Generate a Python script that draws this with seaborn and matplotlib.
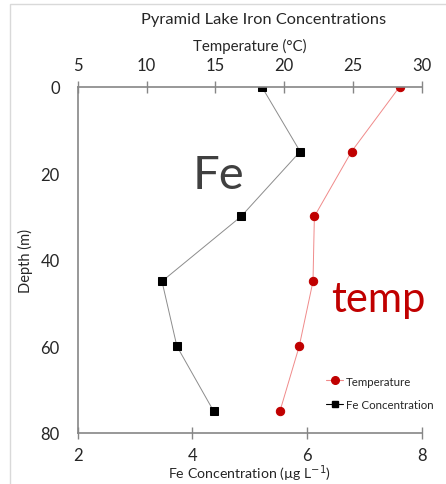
import matplotlib
matplotlib.use("Agg")
import matplotlib.pyplot as plt
import seaborn as sns
import pandas as pd
from matplotlib.lines import Line2D
from matplotlib.patches import Rectangle

depth = [0, 15, 30, 45, 60, 75]
fe_conc = [5.21, 5.88, 4.85, 3.47, 3.73, 4.37]
temperature = [28.4, 24.9, 22.2, 22.1, 21.1, 19.7]
fe_ticks = [2, 4, 6, 8]
temp_ticks = [5, 10, 15, 20, 25, 30]
depth_ticks = [0, 20, 40, 60, 80]

sns.set_style("white")
plt.rcParams["font.family"] = ["Lato", "DejaVu Sans"]

df = pd.DataFrame({"depth": depth, "fe": fe_conc, "temp": temperature})

fig = plt.figure(figsize=(4.46, 4.85), dpi=100)
fig.patches.append(Rectangle((10/446, -0.1), 1.0, 1 - 5/485 + 0.1, transform=fig.transFigure,
                             fill=False, edgecolor="#d9d9d9", linewidth=1.0))
ax = fig.add_axes([77.7/446, 1 - 433.7/485, (421.7-77.7)/446, (433.7-87.7)/485])
ax.set_facecolor("none")

sns.lineplot(data=df, x="fe", y="depth", sort=False, estimator=None, ax=ax,
             color="#8c8c8c", linewidth=0.7, marker="s", markersize=5.5,
             markerfacecolor="black", markeredgecolor="black")
ax2 = ax.twiny()
sns.lineplot(data=df, x="temp", y="depth", sort=False, estimator=None, ax=ax2,
             color="#f08a8a", linewidth=0.7, marker="o", markersize=6,
             markerfacecolor="#c00000", markeredgecolor="#c00000")

ax.set_xlim(2, 8)
ax.set_ylim(80, 0)
ax2.set_xlim(5, 30)
ax.set_xticks(fe_ticks)
ax.set_yticks(depth_ticks)
ax2.set_xticks(temp_ticks)

spine_c = "#868686"
for a in (ax, ax2):
    for s in a.spines.values():
        s.set_visible(False)
ax.spines["bottom"].set_visible(True)
ax.spines["left"].set_visible(True)
ax2.spines["top"].set_visible(True)
for a in (ax, ax2):
    for s in a.spines.values():
        s.set_color(spine_c)
        s.set_linewidth(1.2)

ax.tick_params(axis="both", direction="inout", length=8, width=1, color=spine_c,
               labelsize=12, labelcolor="#262626")
ax.tick_params(axis="x", pad=6)
ax.tick_params(axis="y", pad=9)
ax2.tick_params(axis="x", direction="inout", length=8, width=1, color=spine_c,
                labelsize=12, labelcolor="#262626", pad=6)

ax.set_xlabel("Fe Concentration (µg L$^{-1}$)", fontsize=10.2, color="#262626", labelpad=0)
ax.set_ylabel("Depth (m)", fontsize=10.5, color="#262626", labelpad=5)
ax2.set_xlabel("Temperature (°C)", fontsize=10.8, color="#262626", labelpad=5)
ax2.set_ylabel("")

fig.text(0.59, 1 - 20/485, "Pyramid Lake Iron Concentrations", ha="center", va="center",
         fontsize=11.8, color="#262626")

ax.text(4.45, 20.5, "Fe", fontsize=34, color="#404040", ha="center", va="center")
ax.text(7.24, 49, "temp", fontsize=30, color="#c00000", ha="center", va="center")

handles = [
    Line2D([], [], color="#f08a8a", linewidth=0.8, marker="o", markersize=5.5,
           markerfacecolor="#c00000", markeredgecolor="#c00000"),
    Line2D([], [], color="black", linewidth=0.8, marker="s", markersize=5,
           markerfacecolor="black", markeredgecolor="black"),
]
ax.legend(handles, ["Temperature", "Fe Concentration"], loc="lower right",
          bbox_to_anchor=(1.065, 0.035), frameon=False, fontsize=8.3,
          handlelength=1.5, handletextpad=0.25, labelspacing=1.1)

fig.savefig("out.png", dpi=100)
